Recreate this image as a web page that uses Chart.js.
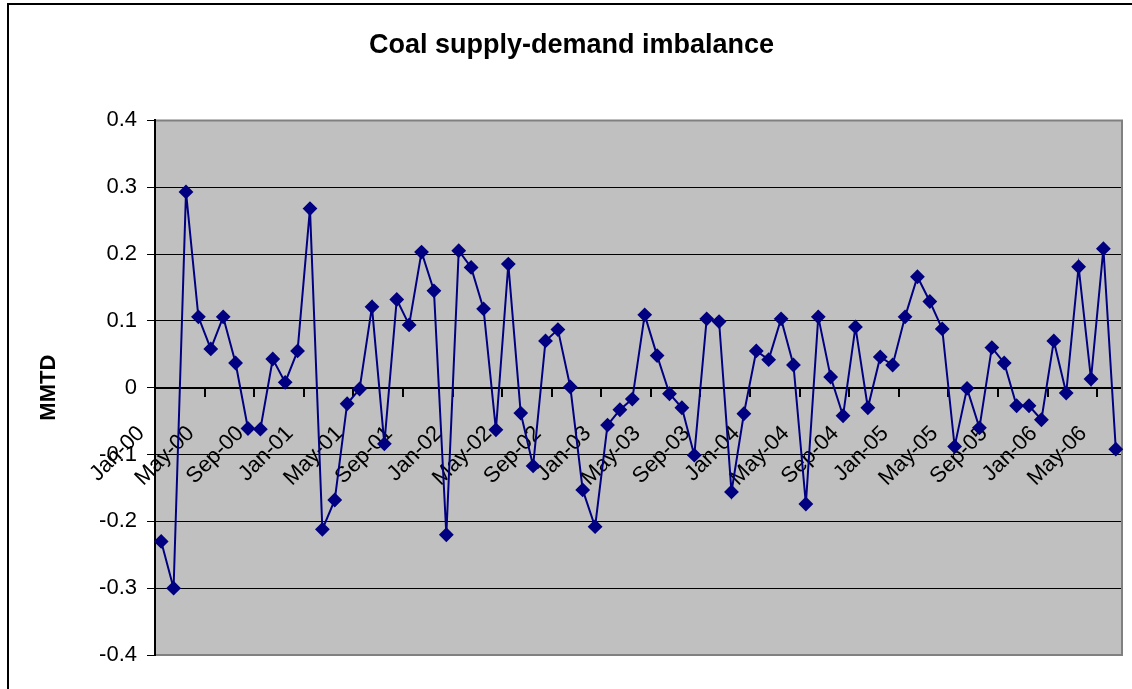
<!DOCTYPE html>
<html>
<head>
<meta charset="utf-8">
<script src="https://cdn.jsdelivr.net/npm/chart.js@4.4.1/dist/chart.umd.min.js"></script>
<style>
  html, body { margin: 0; padding: 0; background: #fff; overflow: hidden; }
  #frame { position: absolute; left: 7px; top: 3px; width: 2000px; height: 2000px;
           border-left: 2px solid #000; border-top: 2px solid #000; }
  #wrap { position: absolute; left: 0; top: 0; width: 1132px; height: 689px; }
</style>
</head>
<body>
<div id="frame"></div>
<div id="wrap"><canvas id="chart"></canvas></div>
<script>
// months Jan-00 .. Jun-06
const months = [
  'Jan-00','Feb-00','Mar-00','Apr-00','May-00','Jun-00','Jul-00','Aug-00','Sep-00','Oct-00','Nov-00','Dec-00',
  'Jan-01','Feb-01','Mar-01','Apr-01','May-01','Jun-01','Jul-01','Aug-01','Sep-01','Oct-01','Nov-01','Dec-01',
  'Jan-02','Feb-02','Mar-02','Apr-02','May-02','Jun-02','Jul-02','Aug-02','Sep-02','Oct-02','Nov-02','Dec-02',
  'Jan-03','Feb-03','Mar-03','Apr-03','May-03','Jun-03','Jul-03','Aug-03','Sep-03','Oct-03','Nov-03','Dec-03',
  'Jan-04','Feb-04','Mar-04','Apr-04','May-04','Jun-04','Jul-04','Aug-04','Sep-04','Oct-04','Nov-04','Dec-04',
  'Jan-05','Feb-05','Mar-05','Apr-05','May-05','Jun-05','Jul-05','Aug-05','Sep-05','Oct-05','Nov-05','Dec-05',
  'Jan-06','Feb-06','Mar-06','Apr-06','May-06','Jun-06'
]

const imbalance = [
  -0.230, -0.300, 0.293, 0.106, 0.058, 0.106, 0.037, -0.061, -0.062, 0.043, 0.008, 0.055,
  0.268, -0.212, -0.168, -0.024, -0.002, 0.121, -0.084, 0.132, 0.094, 0.203, 0.145, -0.220,
  0.205, 0.180, 0.118, -0.063, 0.185, -0.038, -0.117, 0.070, 0.087, 0.001, -0.153, -0.208,
  -0.056, -0.033, -0.017, 0.109, 0.048, -0.009, -0.030, -0.101, 0.103, 0.099, -0.156, -0.039,
  0.055, 0.042, 0.103, 0.034, -0.174, 0.106, 0.016, -0.042, 0.091, -0.030, 0.046, 0.034,
  0.106, 0.166, 0.129, 0.088, -0.088, -0.001, -0.060, 0.060, 0.037, -0.027, -0.027, -0.048,
  0.070, -0.008, 0.181, 0.013, 0.208, -0.092
]

const yMin = -0.4
const yMax = 0.4
const yStep = 0.1
const labelEvery = 4

const FONT = "'Liberation Sans', Arial, sans-serif"
Chart.defaults.color = '#000'
Chart.defaults.font.family = FONT

// grey plot area like the old excel charts
const plotArea = {
  id: 'plotArea',
  beforeDraw(chart) {
    const { ctx, chartArea: a } = chart
    ctx.save()
    ctx.fillStyle = '#c0c0c0'
    ctx.fillRect(a.left, a.top, a.right - a.left, a.bottom - a.top)
    ctx.restore()
  },
  beforeDatasetsDraw(chart) {
    const { ctx, chartArea: a } = chart
    ctx.save()
    ctx.strokeStyle = '#808080'
    ctx.lineWidth = 2
    ctx.beginPath()
    ctx.moveTo(a.left + 1, a.top)
    ctx.lineTo(a.right, a.top)
    ctx.lineTo(a.right, a.bottom)
    ctx.lineTo(a.left + 1, a.bottom)
    ctx.stroke()
    ctx.restore()
  }
}

new Chart(document.getElementById('chart'), {
  type: 'line',
  data: {
    labels: months,
    datasets: [{
      data: imbalance,
      borderColor: '#000080',
      backgroundColor: '#000080',
      borderWidth: 2,
      pointStyle: 'rectRot',
      pointRadius: 6,
      pointHoverRadius: 6,
      tension: 0
    }]
  },
  options: {
    responsive: true,
    maintainAspectRatio: false,
    animation: false,
    layout: { padding: { left: 21, right: 10, top: 0, bottom: 34 } },
    plugins: {
      legend: { display: false },
      tooltip: { enabled: false },
      title: {
        display: true,
        text: 'Coal supply-demand imbalance',
        color: '#000',
        font: { size: 27, weight: 'bold', family: FONT },
        padding: { top: 29, bottom: 59 }
      }
    },
    scales: {
      x: {
        position: { y: 0 },
        offset: true,
        // labels sit inside the plot, so they should not push the plot edges
        afterFit: (s) => { s.paddingLeft = 0; s.paddingRight = 0 },
        grid: {
          offset: true,
          drawOnChartArea: false,
          tickLength: 8,
          lineWidth: 2,
          color: (c) => (c.index % labelEvery === 0 ? '#000' : 'rgba(0,0,0,0)')
        },
        border: { display: true, color: '#000', width: 2 },
        ticks: {
          autoSkip: false,
          minRotation: 45,
          maxRotation: 45,
          labelOffset: -20,
          padding: 25,
          font: { size: 22, family: FONT },
          callback: function (v, i) { return i % labelEvery === 0 ? this.getLabelForValue(v) : '' }
        }
      },
      y: {
        min: yMin,
        max: yMax,
        afterFit: (s) => { s.width = 134 },
        grid: { color: '#000', lineWidth: 1, tickLength: 8 },
        border: { display: true, color: '#000', width: 2 },
        ticks: { stepSize: yStep, padding: 10, font: { size: 22, family: FONT } },
        title: {
          display: true,
          text: 'MMTD',
          color: '#000',
          font: { size: 22, weight: 'bold', family: FONT },
          padding: { top: 15, bottom: 0 }
        }
      }
    }
  },
  plugins: [plotArea]
})
</script>
</body>
</html>
